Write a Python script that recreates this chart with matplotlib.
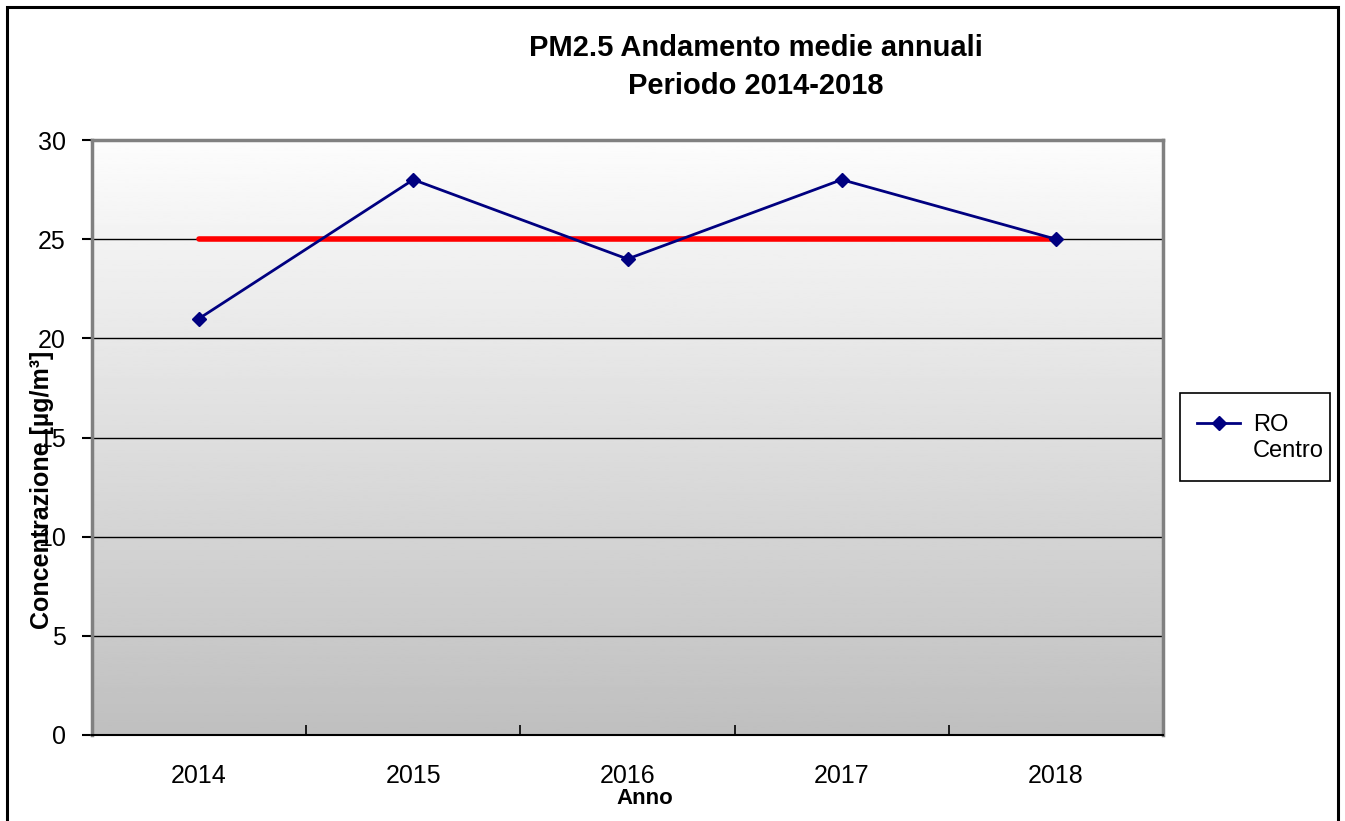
import matplotlib
matplotlib.use("Agg")
import matplotlib.pyplot as plt
import matplotlib.patches as mpatches
from matplotlib.lines import Line2D
import numpy as np

plt.rcParams['font.family'] = ['Liberation Sans', 'DejaVu Sans']

anni = ['2014', '2015', '2016', '2017', '2018']
ro_centro = [21, 28, 24, 28, 25]
limite = [25, 25, 25, 25, 25]

W, H = 1345, 821
fig = plt.figure(figsize=(W / 100, H / 100), dpi=100)
ax = fig.add_axes([92 / W, 1 - 735 / H, 1071 / W, 595 / H])

x = np.arange(len(anni))

# gradient background of the plot area
grad = np.linspace(0.99, 0.75, 256).reshape(-1, 1)
ax.imshow(grad, extent=[0, 1, 0, 1], transform=ax.transAxes, cmap='gray',
          vmin=0, vmax=1, aspect='auto', zorder=0)

for v in [5, 10, 15, 20, 25]:
    ax.axhline(v, color='black', lw=1.0, zorder=1)

ax.plot(x, limite, color='#ff0000', lw=4, solid_capstyle='round', zorder=2)
ax.plot(x, ro_centro, color='#000080', lw=2, marker='D', markersize=7, zorder=3)

ax.set_xlim(-0.5, len(anni) - 0.5)
ax.set_ylim(0, 30)
ax.set_xticks(np.arange(-0.5, len(anni)))
ax.set_xticklabels([])
ax.set_xticks(x, minor=True)
ax.set_xticklabels(anni, minor=True, fontsize=18)
ax.tick_params(axis='x', which='minor', length=0, pad=21)
ax.tick_params(axis='x', which='major', length=7, direction='in', width=1.2)
ax.set_yticks(range(0, 31, 5))
ax.tick_params(axis='y', labelsize=18, length=7, width=1.5, direction='out', pad=12)

for s in ['top', 'right', 'left']:
    ax.spines[s].set_color('#808080')
    ax.spines[s].set_linewidth(2.5)
ax.spines['bottom'].set_color('black')
ax.spines['bottom'].set_linewidth(1.5)

fig.text(42 / W, 1 - 490 / H, 'Concentrazione [µg/m³]', rotation=90, fontsize=18,
         fontweight='bold', ha='center', va='center')
fig.text(645 / W, 1 - 798 / H, 'Anno', fontsize=16, fontweight='bold',
         ha='center', va='center')
fig.text(756 / W, 1 - 67 / H, 'PM2.5 Andamento medie annuali\nPeriodo 2014-2018',
         fontsize=21, fontweight='bold', ha='center', va='center', linespacing=1.45)

# legend box
fig.patches.append(mpatches.Rectangle((1180 / W, 1 - 481 / H), 150 / W, 88 / H,
                                      transform=fig.transFigure, fill=False,
                                      edgecolor='black', lw=1.2))
fig.lines.append(Line2D([1197 / W, 1240 / W], [1 - 423 / H, 1 - 423 / H],
                        transform=fig.transFigure, color='#000080', lw=2))
fig.lines.append(Line2D([1218.5 / W], [1 - 423 / H], transform=fig.transFigure,
                        color='#000080', marker='D', markersize=7))
fig.text(1253 / W, 1 - 438 / H, 'RO\nCentro', fontsize=17, ha='left', va='center',
         linespacing=1.25)

# outer chart border
fig.patches.append(mpatches.Rectangle((7 / W, -0.05), 1331 / W, 1.05 - 7 / H,
                                      transform=fig.transFigure, fill=False,
                                      edgecolor='black', lw=2.2))

fig.savefig('out.png', dpi=100)
